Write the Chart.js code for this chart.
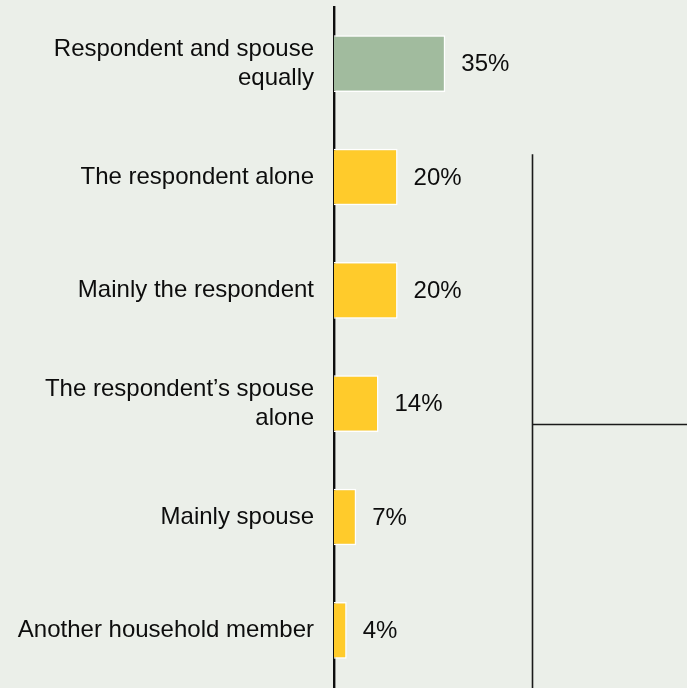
<!DOCTYPE html>
<html>
<head>
<meta charset="utf-8">
<script src="https://cdn.jsdelivr.net/npm/chart.js@4/dist/chart.umd.min.js"></script>
<style>
  html, body { margin: 0; padding: 0; background: #ebefe9; }
  #wrap { width: 687px; height: 688px; position: relative; }
</style>
</head>
<body>
<div id="wrap"><canvas id="shareChart"></canvas></div>
<script>
// who handles the household finances, share of respondents
const categories = [
    ["Respondent and spouse", "equally"],
    "The respondent alone",
    "Mainly the respondent",
    ["The respondent\u2019s spouse", "alone"],
    "Mainly spouse",
    "Another household member"
];
const shares = [35, 20, 20, 14, 7, 4];
const barColors = ["#a1bb9e", "#ffcb2b", "#ffcb2b", "#ffcb2b", "#ffcb2b", "#ffcb2b"];

const FONT = "'Liberation Sans', Arial, Helvetica, sans-serif";

// percent labels just past the end of each bar
const valueLabels = {
    id: "valueLabels",
    afterDatasetsDraw(chart) {
        const ctx = chart.ctx;
        const meta = chart.getDatasetMeta(0);
        ctx.save();
        ctx.font = "24px " + FONT;
        ctx.fillStyle = "#0d0d0d";
        ctx.textBaseline = "middle";
        ctx.textAlign = "left";
        meta.data.forEach((bar, i) => {
            ctx.fillText(shares[i] + "%", bar.x + 16, bar.y + 1);
        });
        ctx.restore();
    }
};

// bracket on the right side of the chart
const bracket = {
    id: "bracket",
    afterDraw(chart) {
        const ctx = chart.ctx;
        const y = chart.scales.y;
        const x = chart.scales.x;
        const bx = Math.round(x.getPixelForValue(62.2)) + 0.5;
        const top = y.getPixelForValue(0.8);
        const mid = Math.round(y.getPixelForValue(3.18)) + 0.5;
        ctx.save();
        ctx.strokeStyle = "#1a1a1a";
        ctx.lineWidth = 1.6;
        ctx.beginPath();
        ctx.moveTo(bx, top);
        ctx.lineTo(bx, chart.height);
        ctx.moveTo(bx, mid);
        ctx.lineTo(chart.width, mid);
        ctx.stroke();
        ctx.restore();
    }
};

new Chart(document.getElementById("shareChart"), {
    type: "bar",
    data: {
        labels: categories,
        datasets: [{
            data: shares,
            backgroundColor: barColors,
            borderColor: "#ffffff",
            borderWidth: 1.5,
            borderSkipped: "left",
            barPercentage: 0.5,
            categoryPercentage: 1.0
        }]
    },
    options: {
        indexAxis: "y",
        responsive: true,
        maintainAspectRatio: false,
        animation: false,
        layout: { padding: { top: 7, bottom: 1, left: 0, right: 0 } },
        scales: {
            x: {
                display: false,
                min: 0,
                max: 111
            },
            y: {
                grid: { display: false, drawTicks: false },
                border: { display: true, color: "#0d0d0d", width: 2.4 },
                ticks: {
                    color: "#0d0d0d",
                    padding: 20,
                    font: { family: FONT, size: 24, lineHeight: 1.2 }
                },
                afterFit(scale) {
                    scale.width = 334;
                    scale.paddingTop = 0;
                    scale.paddingBottom = 0;
                }
            }
        },
        plugins: {
            legend: { display: false },
            tooltip: { enabled: false }
        }
    },
    plugins: [valueLabels, bracket]
});
</script>
</body>
</html>
